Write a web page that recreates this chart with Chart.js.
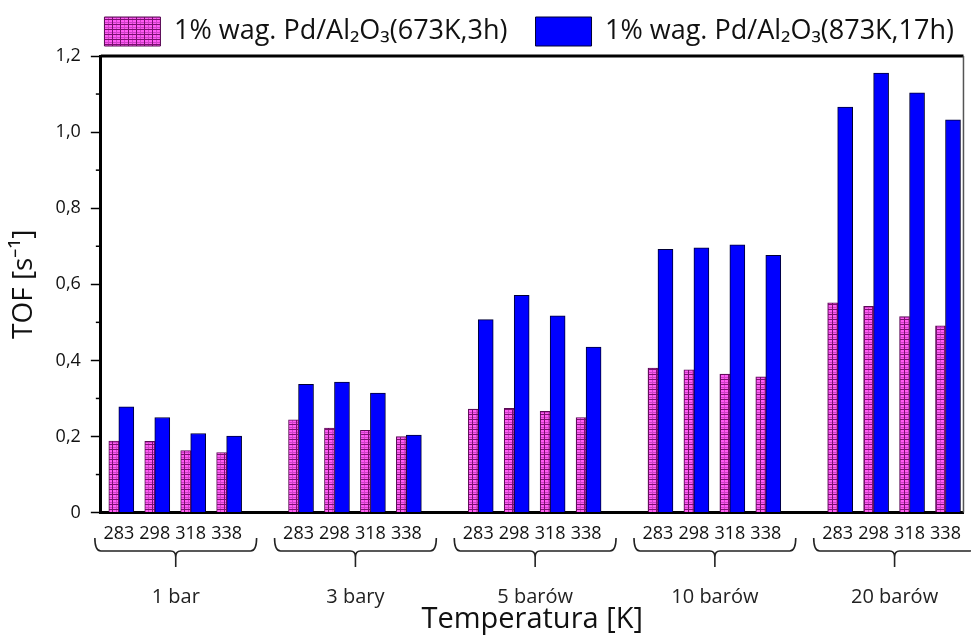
<!DOCTYPE html>
<html>
<head>
<meta charset="utf-8">
<script src="https://cdn.jsdelivr.net/npm/chart.js@4.4.1/dist/chart.umd.min.js"></script>
<style>
  body { margin: 0; background: #fff; }
  canvas { display: block; }
</style>
</head>
<body>
<canvas id="myChart" width="971" height="637"></canvas>
<script>
// pressure groups and temperatures under each group
const pressures = ['1 bar', '3 bary', '5 barów', '10 barów', '20 barów'];
const temps = ['283', '298', '318', '338'];

// TOF values, 4 temperatures per pressure group
const tof673 = [0.188, 0.187, 0.163, 0.158,
                0.244, 0.222, 0.216, 0.200,
                0.272, 0.274, 0.266, 0.250,
                0.380, 0.375, 0.364, 0.357,
                0.551, 0.542, 0.515, 0.491];
const tof873 = [0.278, 0.250, 0.208, 0.201,
                0.337, 0.343, 0.314, 0.204,
                0.507, 0.571, 0.517, 0.435,
                0.692, 0.696, 0.704, 0.676,
                1.066, 1.155, 1.103, 1.032];

const seriesNames = ['1% wag. Pd/Al\u2082O\u2083(673K,3h)', '1% wag. Pd/Al\u2082O\u2083(873K,17h)'];
const yTicks = [0, 0.2, 0.4, 0.6, 0.8, 1.0, 1.2];

const FONT = "'Open Sans', sans-serif";

//build category labels with an empty slot between groups
let labels = [];
let data1 = [];
let data2 = [];
for (let g = 0; g < pressures.length; g++) {
    for (let t = 0; t < temps.length; t++) {
        labels.push(temps[t]);
        data1.push(tof673[g * 4 + t]);
        data2.push(tof873[g * 4 + t]);
    }
    if (g < pressures.length - 1) {
        labels.push('');
        data1.push(null);
        data2.push(null);
    }
}

//pink grid hatch like the original
function makePattern() {
    const c = document.createElement('canvas');
    c.width = 8; c.height = 5;
    const g = c.getContext('2d');
    g.fillStyle = '#ff5cf4';
    g.fillRect(0, 0, 8, 5);
    g.fillStyle = '#d040c8';
    g.fillRect(4, 0, 1, 5);
    g.fillRect(0, 2, 8, 1);
    g.fillStyle = '#7a1070';
    g.fillRect(0, 0, 1, 5);
    g.fillRect(0, 4, 8, 1);
    return g.createPattern(c, 'repeat');
}

//frame, minor ticks, braces and group names
const extras = {
    id: 'extras',
    afterDraw(chart) {
        const ctx = chart.ctx;
        const area = chart.chartArea;
        const x = chart.scales.x;
        const y = chart.scales.y;
        ctx.save();

        //top and right frame
        ctx.strokeStyle = '#000';
        ctx.lineWidth = 3;
        ctx.beginPath();
        ctx.moveTo(area.left, area.top);
        ctx.lineTo(area.right, area.top);
        ctx.stroke();
        ctx.strokeStyle = '#555';
        ctx.lineWidth = 1.5;
        ctx.beginPath();
        ctx.moveTo(area.right, area.top);
        ctx.lineTo(area.right, area.bottom);
        ctx.stroke();

        //minor ticks
        ctx.strokeStyle = '#000';
        ctx.lineWidth = 1.5;
        for (let i = 0; i < yTicks.length - 1; i++) {
            const py = y.getPixelForValue((yTicks[i] + yTicks[i + 1]) / 2);
            ctx.beginPath();
            ctx.moveTo(area.left - 5, py);
            ctx.lineTo(area.left, py);
            ctx.stroke();
        }

        //braces under each group
        const cw = x.getPixelForValue(1) - x.getPixelForValue(0);
        ctx.strokeStyle = '#222';
        ctx.lineWidth = 1.6;
        ctx.fillStyle = '#222';
        ctx.font = '20px ' + FONT;
        ctx.textAlign = 'center';
        ctx.textBaseline = 'middle';
        for (let g = 0; g < pressures.length; g++) {
            const c = (x.getPixelForValue(g * 5) + x.getPixelForValue(g * 5 + 3)) / 2 + 3;
            const half = cw * 2.25;
            const L = c - half, R = c + half;
            const top = 538, mid = 551, tip = 567;
            ctx.beginPath();
            ctx.moveTo(L, top);
            ctx.quadraticCurveTo(L, mid, L + 6, mid);
            ctx.lineTo(c - 5, mid);
            ctx.quadraticCurveTo(c, mid, c, mid + 6);
            ctx.lineTo(c, tip);
            ctx.moveTo(c, mid + 6);
            ctx.quadraticCurveTo(c, mid, c + 5, mid);
            ctx.lineTo(R - 6, mid);
            ctx.quadraticCurveTo(R, mid, R, top);
            ctx.stroke();
            ctx.fillText(pressures[g], c, 597);
        }
        ctx.restore();
    }
};

const pattern = makePattern();

const config = {
    type: 'bar',
    data: {
        labels: labels,
        datasets: [{
            label: seriesNames[0],
            data: data1,
            backgroundColor: pattern,
            borderColor: '#5a0a55',
            borderWidth: 1,
            barThickness: 10,
            categoryPercentage: 0.66,
            skipNull: true
        }, {
            label: seriesNames[1],
            data: data2,
            backgroundColor: '#0000ff',
            borderColor: '#000033',
            borderWidth: 1,
            barThickness: 15,
            categoryPercentage: 0.66
        }]
    },
    options: {
        responsive: false,
        animation: false,
        layout: { padding: { left: 7, right: 3, top: 3, bottom: 0 } },
        plugins: {
            tooltip: { enabled: false },
            legend: {
                position: 'top',
                align: 'end',
                labels: {
                    boxWidth: 56,
                    boxHeight: 29,
                    padding: 14,
                    color: '#111',
                    font: { family: FONT, size: 27 },
                    //a bit more room between the two entries
                    generateLabels(chart) {
                        const items = Chart.defaults.plugins.legend.labels.generateLabels(chart);
                        items[0].text = items[0].text + '  ';
                        return items;
                    }
                }
            }
        },
        scales: {
            x: {
                grid: { display: false, drawTicks: false },
                border: { display: true, color: '#000', width: 3 },
                ticks: {
                    color: '#111',
                    padding: 10,
                    autoSkip: false,
                    maxRotation: 0,
                    font: { family: FONT, size: 18 }
                },
                title: {
                    display: true,
                    text: 'Temperatura [K]',
                    color: '#111',
                    font: { family: FONT, size: 29 },
                    padding: { top: 48, bottom: 0 }
                }
            },
            y: {
                min: 0,
                max: 1.2,
                grid: { display: true, drawOnChartArea: false, tickLength: 10, tickColor: '#000', tickWidth: 1.5 },
                border: { display: true, color: '#000', width: 3 },
                ticks: {
                    stepSize: 0.2,
                    padding: 10,
                    color: '#111',
                    font: { family: FONT, size: 18 },
                    callback: (v) => v === 0 ? '0' : v.toFixed(1).replace('.', ',')
                },
                title: {
                    display: true,
                    text: 'TOF [s\u207B\u00B9]',
                    color: '#111',
                    font: { family: FONT, size: 28 },
                    padding: { top: 0, bottom: 5 }
                }
            }
        }
    },
    plugins: [extras]
};

let tofChart = new Chart(document.getElementById('myChart'), config);
</script>
</body>
</html>
